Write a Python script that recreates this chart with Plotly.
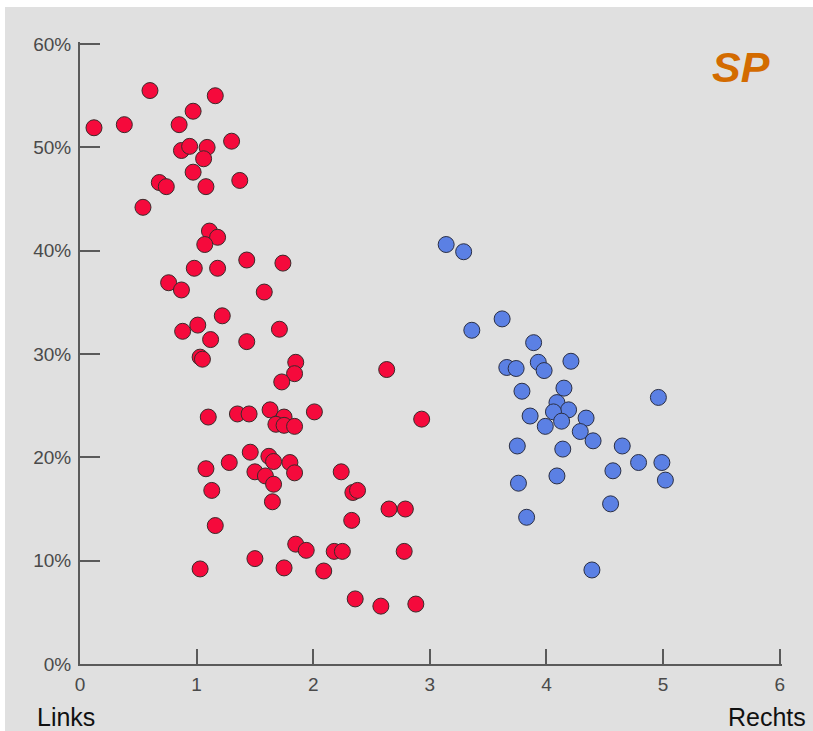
import plotly.graph_objects as go

# Red group (Links-rechts position, vote share %)
red_x = [0.12, 0.38, 0.60, 1.16, 0.97, 0.85, 1.30, 0.87, 0.94, 1.09, 1.06, 0.97, 1.37, 0.68, 0.74,
         1.08, 0.54, 1.11, 1.18, 1.07, 1.43, 1.74, 0.98, 1.18, 0.76, 0.87, 1.58, 1.22, 1.01, 0.88,
         1.71, 1.12, 1.43, 1.03, 1.05, 1.85, 1.84, 1.73, 2.63, 1.10, 1.35, 1.45, 1.63, 1.75, 1.68,
         1.75, 1.84, 2.01, 2.93, 1.46, 1.62, 1.66, 1.80, 1.28, 1.08, 1.50, 1.59, 1.84, 1.66, 2.24,
         1.13, 2.34, 2.38, 1.65, 2.65, 2.79, 1.16, 2.33, 1.85, 1.94, 2.18, 2.25, 2.78, 1.03, 1.50,
         1.75, 2.09, 2.36, 2.58, 2.88]
red_y = [51.9, 52.2, 55.5, 55.0, 53.5, 52.2, 50.6, 49.7, 50.1, 50.0, 48.9, 47.6, 46.8, 46.6, 46.2,
         46.2, 44.2, 41.9, 41.3, 40.6, 39.1, 38.8, 38.3, 38.3, 36.9, 36.2, 36.0, 33.7, 32.8, 32.2,
         32.4, 31.4, 31.2, 29.7, 29.5, 29.2, 28.1, 27.3, 28.5, 23.9, 24.2, 24.2, 24.6, 23.9, 23.2,
         23.1, 23.0, 24.4, 23.7, 20.5, 20.1, 19.6, 19.5, 19.5, 18.9, 18.6, 18.2, 18.5, 17.4, 18.6,
         16.8, 16.6, 16.8, 15.7, 15.0, 15.0, 13.4, 13.9, 11.6, 11.0, 10.9, 10.9, 10.9, 9.2, 10.2,
         9.3, 9.0, 6.3, 5.6, 5.8]

# Blue group
blue_x = [3.14, 3.29, 3.62, 3.36, 3.89, 3.66, 3.74, 3.93, 3.98, 4.21, 3.79, 4.15, 4.09, 4.19, 4.06,
          4.13, 3.86, 3.99, 4.34, 4.29, 4.40, 4.96, 3.75, 4.14, 4.65, 4.79, 4.99, 5.02, 4.57, 4.09,
          3.76, 4.55, 3.83, 4.39]
blue_y = [40.6, 39.9, 33.4, 32.3, 31.1, 28.7, 28.6, 29.2, 28.4, 29.3, 26.4, 26.7, 25.3, 24.6, 24.4,
          23.5, 24.0, 23.0, 23.8, 22.5, 21.6, 25.8, 21.1, 20.8, 21.1, 19.5, 19.5, 17.8, 18.7, 18.2,
          17.5, 15.5, 14.2, 9.1]

x_ticks = [0, 1, 2, 3, 4, 5, 6]
y_ticks = [0, 10, 20, 30, 40, 50, 60]  # percent

fig = go.Figure()
fig.add_trace(go.Scatter(x=red_x, y=[v / 100 for v in red_y], mode="markers",
                         marker=dict(size=16, color="#f50a3c",
                                     line=dict(color="#3a2a2a", width=1)),
                         showlegend=False))
fig.add_trace(go.Scatter(x=blue_x, y=[v / 100 for v in blue_y], mode="markers",
                         marker=dict(size=16, color="#5b80e4",
                                     line=dict(color="#2a2f45", width=1)),
                         showlegend=False))

# figure is placed at page offset (5, 7); plot area spans page px 80..782 x 42..664
OX, OY = 5, 7
W, H = 813 - OX, 731 - OY
L, T = 80 - OX, 42 - OY
R = W - (782 - OX)
B = H - (664 - OY)
pw, ph = W - L - R, H - T - B

def px(x):
    return (x - OX - L) / pw

def py(y):
    return (T + ph - (y - OY)) / ph

tickfont = dict(family="Liberation Sans, Arial, sans-serif", size=19, color="#4a4a4a")

fig.update_xaxes(range=[0, 6.02], tickmode="array", tickvals=x_ticks,
                 showgrid=False, zeroline=False, showline=True, linecolor="#5a5a5a", linewidth=2,
                 ticks="inside", ticklen=15, tickwidth=2, tickcolor="#5a5a5a",
                 ticklabelstandoff=2, tickfont=tickfont)
fig.update_yaxes(range=[0, 0.602], tickmode="array", tickvals=[v / 100 for v in y_ticks],
                 tickformat=".0%",
                 showgrid=False, zeroline=False, showline=True, linecolor="#5a5a5a", linewidth=2,
                 ticks="inside", ticklen=20, tickwidth=2, tickcolor="#5a5a5a",
                 ticklabelstandoff=3, tickfont=tickfont)

fig.add_annotation(text="<b><i>SP</i></b>", xref="paper", yref="paper",
                   x=px(741), y=py(67.5), showarrow=False,
                   font=dict(family="Liberation Sans, Arial, sans-serif", size=43, color="#d36b00"),
                   xanchor="center", yanchor="middle")
fig.add_annotation(text="Links", xref="paper", yref="paper",
                   x=px(35), y=py(717), showarrow=False,
                   font=dict(family="Liberation Sans, Arial, sans-serif", size=25, color="#111111"),
                   xanchor="left", yanchor="middle")
fig.add_annotation(text="Rechts", xref="paper", yref="paper",
                   x=px(808), y=py(717), showarrow=False,
                   font=dict(family="Liberation Sans, Arial, sans-serif", size=25, color="#111111"),
                   xanchor="right", yanchor="middle")

fig.update_layout(width=W, height=H, margin=dict(l=L, r=R, t=T, b=B),
                  paper_bgcolor="#e0e0e0", plot_bgcolor="#e0e0e0")

fig.write_html("out.html", config={"displayModeBar": False},
               post_script=("document.body.style.margin='0';"
                            "document.body.style.background='white';"
                            "document.body.style.overflow='hidden';"
                            "var g=document.getElementById('{plot_id}');"
                            f"g.style.marginLeft='{OX}px';g.style.marginTop='{OY}px';"))
